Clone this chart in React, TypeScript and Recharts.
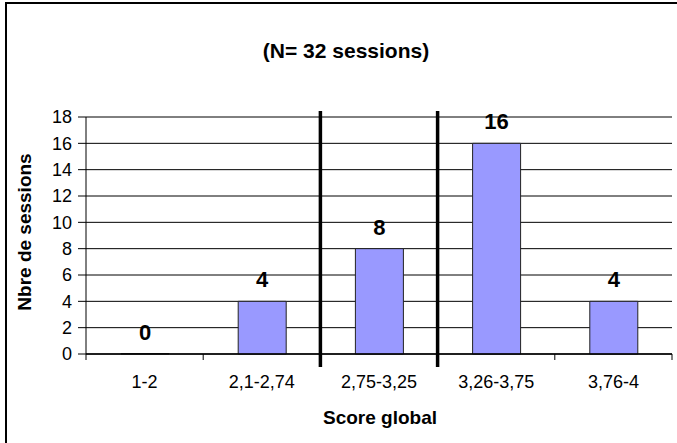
import React from "react";
import {
  BarChart,
  Bar,
  XAxis,
  YAxis,
  CartesianGrid,
  LabelList,
} from "recharts";

const categories = ["1-2", "2,1-2,74", "2,75-3,25", "3,26-3,75", "3,76-4"];
const sessions = [0, 4, 8, 16, 4];
const yTicks = [0, 2, 4, 6, 8, 10, 12, 14, 16, 18];
// separators drawn before these category indices
const separatorsBefore = [2, 3];

const titleText = "(N= 32 sessions)";
const xTitle = "Score global";
const yTitle = "Nbre de sessions";

const data = categories.map((c, i) => ({ name: c, value: sessions[i] }));

const FONT = "'Liberation Sans', Arial, sans-serif";
const MARGIN = { top: 117, right: 5, bottom: 29, left: 26 };
const TICK_SIZE = 6;
const TICK_MARGIN = 15;

const BarValueLabel = (props: any) => {
  const { x, y, width, height, value } = props;
  const top = Math.min(Number(y), Number(y) + Number(height || 0));
  return (
    <text
      x={Number(x) + Number(width) / 2}
      y={top - 14}
      textAnchor="middle"
      fontFamily={FONT}
      fontWeight="bold"
      fontSize={22}
      fill="#000"
    >
      {value}
    </text>
  );
};

const CategoryTick = (props: any) => {
  const { x, y, payload, index, visibleTicksCount } = props;
  const half = Number(payload?.offset ?? 0);
  const axisY = Number(y) - TICK_SIZE - TICK_MARGIN;
  const left = Number(x) - half;
  const right = Number(x) + half;
  const isLast = index === (visibleTicksCount ?? categories.length) - 1;
  const isSep = separatorsBefore.includes(index);
  return (
    <g>
      <line x1={left} x2={left} y1={axisY} y2={axisY + 6} stroke="#000" strokeWidth={1} />
      {isLast && (
        <line x1={right} x2={right} y1={axisY} y2={axisY + 6} stroke="#000" strokeWidth={1} />
      )}
      {isSep && (
        <line
          x1={left}
          x2={left}
          y1={axisY + 13}
          y2={MARGIN.top - 6}
          stroke="#000"
          strokeWidth={3.5}
        />
      )}
      <text
        x={x}
        y={y}
        dy="0.71em"
        textAnchor="middle"
        fontFamily={FONT}
        fontSize={18}
        fill="#000"
      >
        {payload?.value}
      </text>
    </g>
  );
};

export default function App() {
  return (
    <div
      style={{
        position: "absolute",
        left: 0,
        top: 0,
        width: 677,
        height: 443,
        background: "#fff",
        overflow: "hidden",
      }}
    >
      <div
        style={{
          position: "absolute",
          left: 5,
          top: 2,
          width: 700,
          height: 460,
          borderLeft: "2px solid #000",
          borderTop: "2px solid #000",
        }}
      />
      <svg
        width={677}
        height={443}
        style={{ position: "absolute", left: 0, top: 0 }}
      >
        <text
          x={346}
          y={58}
          textAnchor="middle"
          fontFamily={FONT}
          fontWeight="bold"
          fontSize={21}
          fill="#000"
        >
          {titleText}
        </text>
      </svg>
      <div style={{ position: "absolute", left: 0, top: 0 }}>
        <BarChart width={677} height={443} data={data} margin={MARGIN}>
          <CartesianGrid
            vertical={false}
            horizontal={true}
            stroke="#000"
            strokeWidth={1}
          />
          <XAxis
            dataKey="name"
            type="category"
            height={60}
            axisLine={{ stroke: "#000", strokeWidth: 1.5 }}
            tickLine={false}
            tickSize={TICK_SIZE}
            tickMargin={TICK_MARGIN}
            tick={<CategoryTick />}
            interval={0}
            label={{
              content: () => (
                <text
                  x={380}
                  y={424}
                  textAnchor="middle"
                  fontFamily={FONT}
                  fontWeight="bold"
                  fontSize={19}
                  fill="#000"
                >
                  {xTitle}
                </text>
              ),
            }}
          />
          <YAxis
            width={60}
            domain={[0, 18]}
            ticks={yTicks}
            interval={0}
            axisLine={{ stroke: "#000", strokeWidth: 1 }}
            tickLine={{ stroke: "#000" }}
            tickSize={8}
            tickMargin={6}
            tick={{ fill: "#000", fontSize: 18, fontFamily: FONT }}
            label={{
              content: () => (
                <text
                  x={31}
                  y={232}
                  transform="rotate(-90 31 232)"
                  textAnchor="middle"
                  fontFamily={FONT}
                  fontWeight="bold"
                  fontSize={19}
                  fill="#000"
                >
                  {yTitle}
                </text>
              ),
            }}
          />
          <YAxis
            yAxisId="right"
            orientation="right"
            width={0}
            domain={[0, 18]}
            tick={false}
            tickLine={false}
            axisLine={{ stroke: "#000", strokeWidth: 1 }}
          />
          <Bar
            dataKey="value"
            fill="#9999FF"
            stroke="#222"
            strokeWidth={1}
            barSize={48}
            minPointSize={0.5}
            isAnimationActive={false}
          >
            <LabelList dataKey="value" content={BarValueLabel} />
          </Bar>
        </BarChart>
      </div>
    </div>
  );
}
